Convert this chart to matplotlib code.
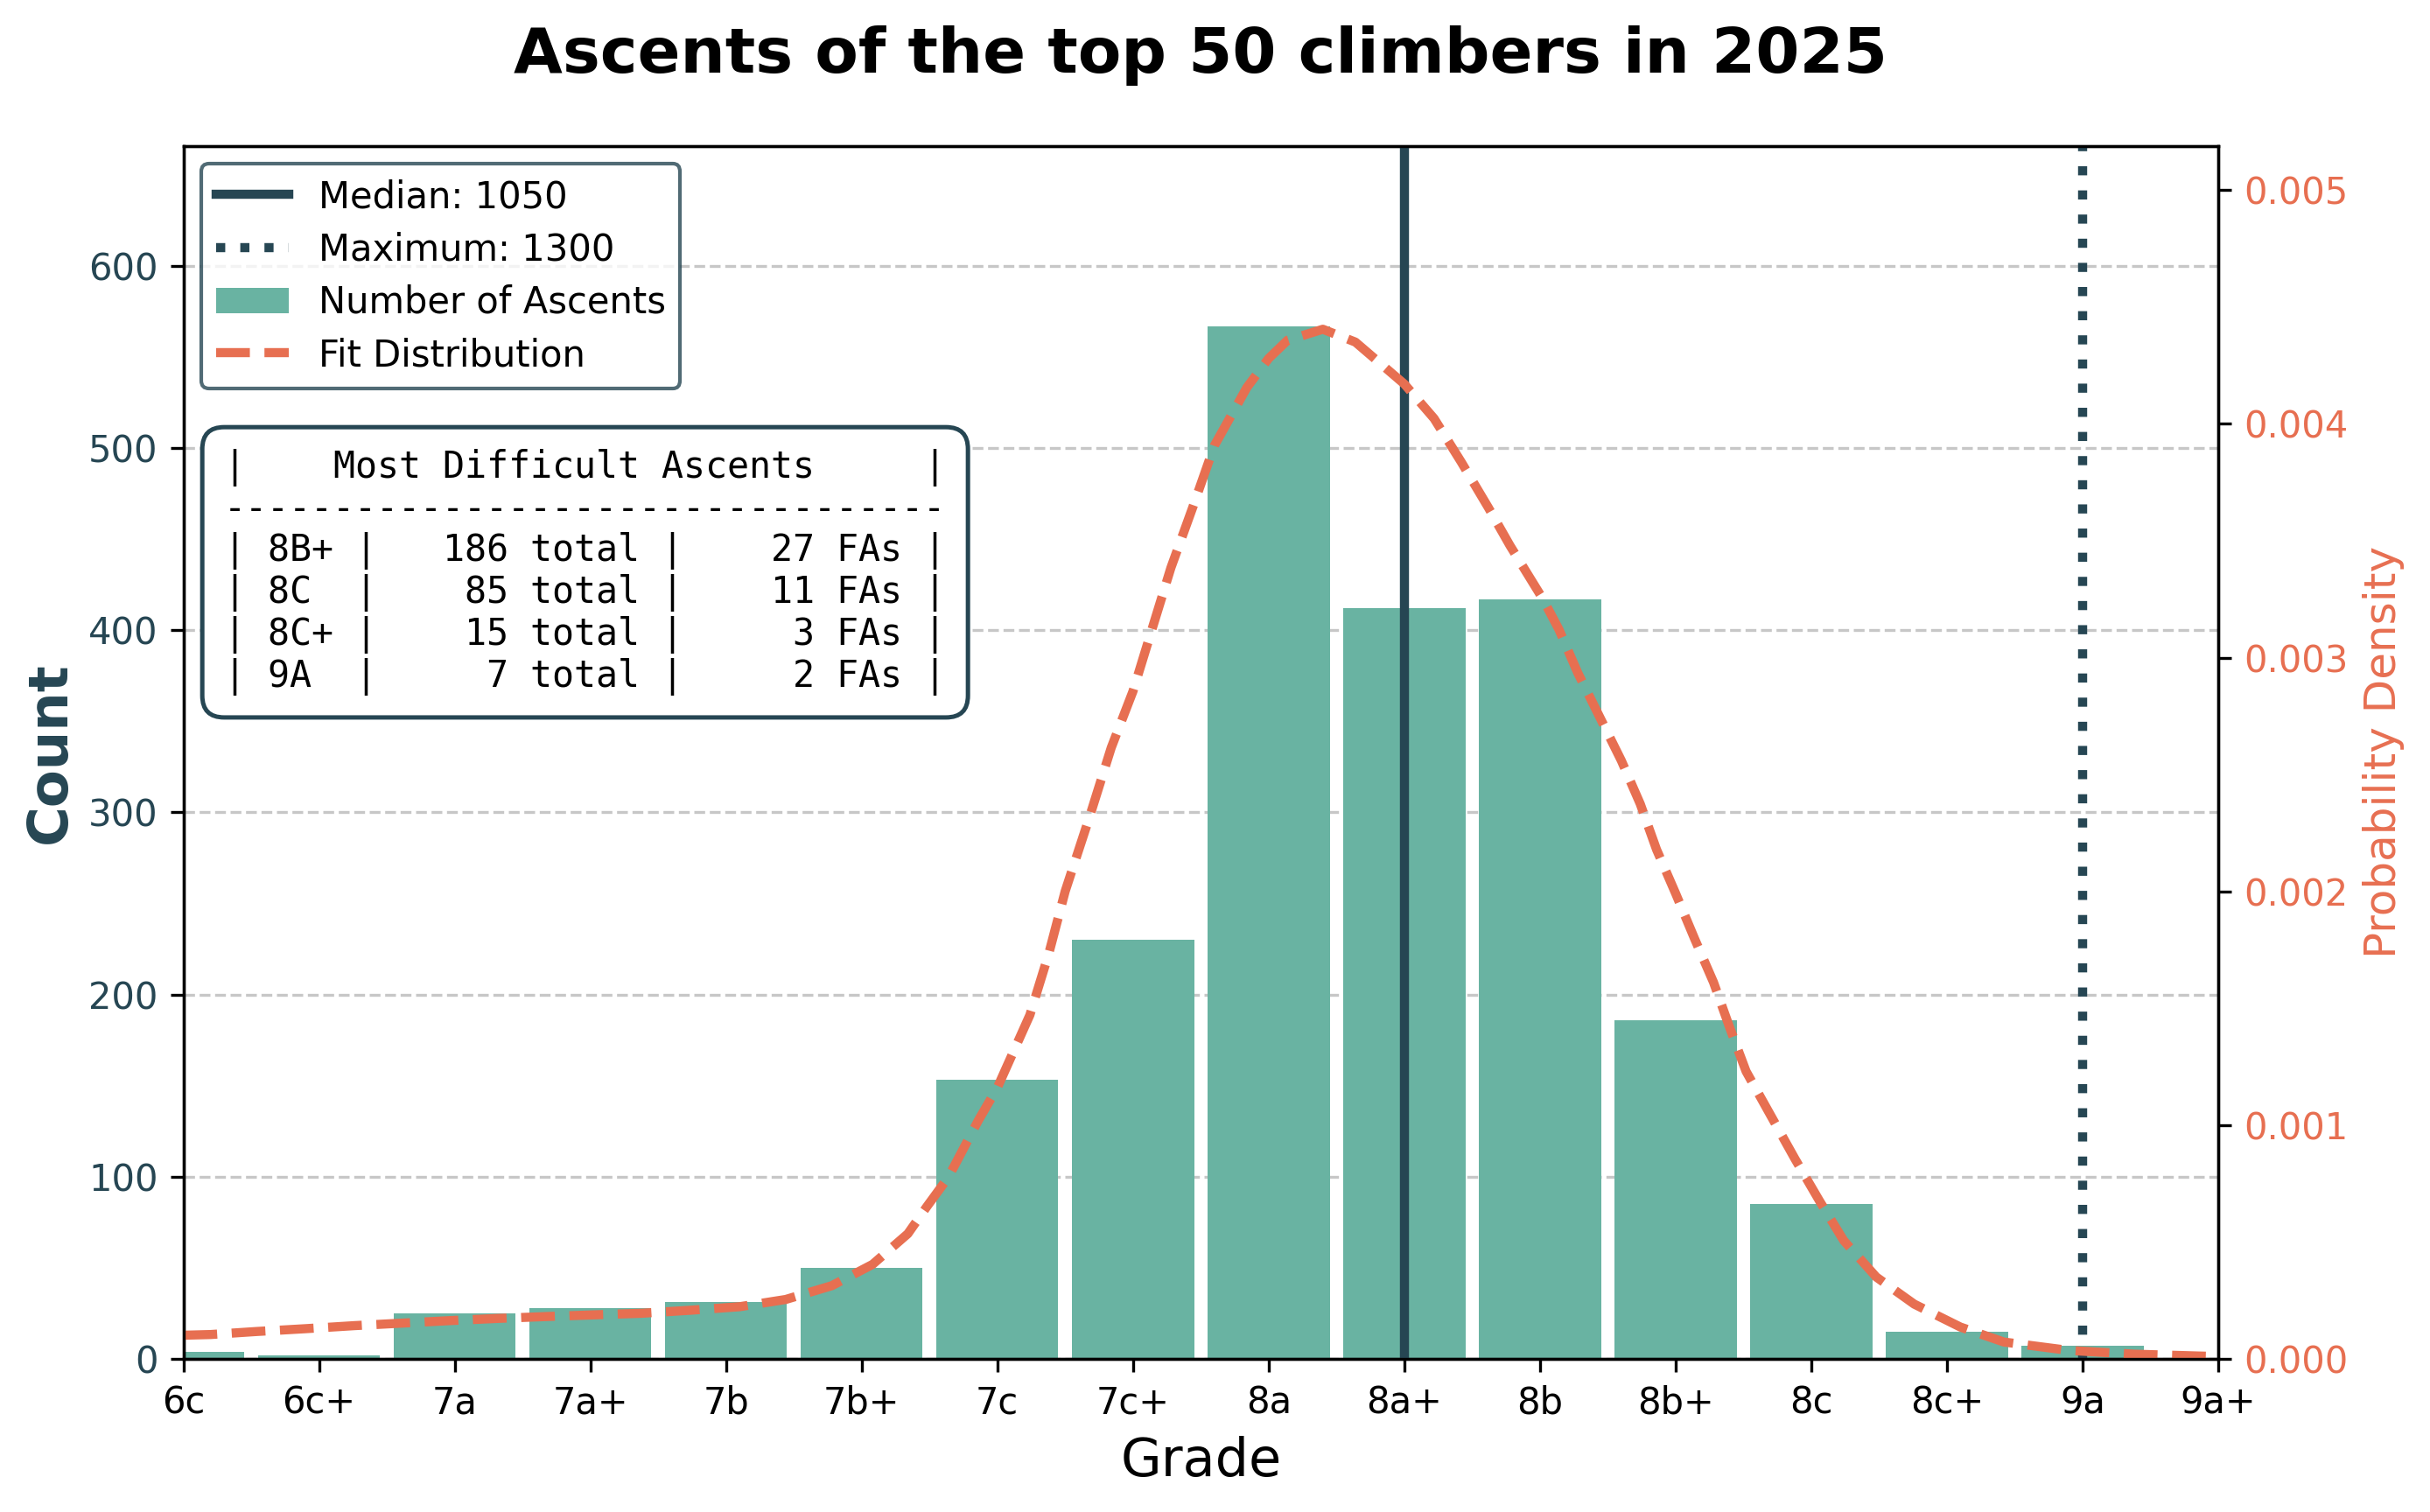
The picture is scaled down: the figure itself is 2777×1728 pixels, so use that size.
import matplotlib
matplotlib.use("Agg")
import matplotlib.pyplot as plt
from matplotlib.lines import Line2D
from matplotlib.patches import Patch

# Grades and their score on the grade scale
grades = ['6c', '6c+', '7a', '7a+', '7b', '7b+', '7c', '7c+',
          '8a', '8a+', '8b', '8b+', '8c', '8c+', '9a', '9a+']
grade_scores = [600, 650, 700, 750, 800, 850, 900, 950,
                1000, 1050, 1100, 1150, 1200, 1250, 1300, 1350]
ascents = [4, 2, 25, 28, 31, 50, 153, 230, 567, 412, 417, 186, 85, 15, 7, 0]

median_score = 1050
max_score = 1300

# Fitted distribution
fit_x = [600, 610, 627, 645, 663, 681, 699, 716, 734, 751, 769, 787, 805, 822,
         839, 854, 867, 874, 882, 893, 900, 912, 919, 925, 934, 942, 950, 957,
         964, 972, 980, 992, 1000, 1007, 1020, 1032, 1050, 1061, 1071, 1081,
         1089, 1101, 1107, 1114, 1122, 1130, 1137, 1143, 1150, 1157, 1164, 1170,
         1176, 1185, 1194, 1203, 1212, 1224, 1238, 1255, 1271, 1295, 1319, 1343, 1350]
fit_density = [0.000101, 0.000104, 0.000117, 0.000129, 0.000142, 0.000153, 0.000164,
               0.000173, 0.000181, 0.000188, 0.000195, 0.000208, 0.000223, 0.000254,
               0.000313, 0.000404, 0.000535, 0.000651, 0.000778, 0.001020, 0.001160,
               0.001471, 0.001735, 0.002000, 0.002319, 0.002615, 0.002856, 0.003121,
               0.003385, 0.003642, 0.003907, 0.004156, 0.004280, 0.004358, 0.004405,
               0.004350, 0.004171, 0.004023, 0.003837, 0.003642, 0.003479, 0.003253,
               0.003121, 0.002934, 0.002747, 0.002560, 0.002374, 0.002179, 0.001992,
               0.001798, 0.001611, 0.001416, 0.001230, 0.001043, 0.000856, 0.000677,
               0.000506, 0.000350, 0.000234, 0.000136, 0.000072, 0.000036, 0.000020,
               0.000012, 0.000010]

# Table of the hardest ascents
hard_grades = ['8B+', '8C', '8C+', '9A']
hard_totals = [186, 85, 15, 7]
hard_fas = [27, 11, 3, 2]

dark = '#264653'
teal = '#69b3a2'
orange = '#e76f51'

fig = plt.figure(figsize=(2777 / 300, 1728 / 300), dpi=300)
ax = fig.add_axes([0.0755, 0.1013, 0.8373, 0.8023])

ax.bar(grade_scores, ascents, width=45, color=teal, zorder=2)
ax.axvline(median_score, color=dark, linewidth=2.5, zorder=3)
ax.axvline(max_score, color=dark, linewidth=2.5, linestyle=':', zorder=3)

ax.set_xlim(600, 1350)
ax.set_ylim(0, 666)
ax.set_xticks(grade_scores)
ax.set_xticklabels(grades)
ax.set_xlabel("Grade", fontsize=14.5)
ax.set_ylabel("Count", fontsize=15, fontweight='bold', color=dark, labelpad=3)
ax.tick_params(axis='y', labelcolor=dark)
ax.grid(True, axis='y', linestyle='--', alpha=0.7)
ax.set_axisbelow(True)

ax2 = ax.twinx()
ax2.plot(fit_x, fit_density, color=orange, linestyle='--', linewidth=2.5)
ax2.set_ylim(0, 0.00519)
ax2.set_ylabel("Probability Density", fontsize=12, color=orange)
ax2.tick_params(axis='y', labelcolor=orange)

ax.set_title("Ascents of the top 50 climbers in 2025", fontsize=17.3,
             fontweight='bold', pad=20)

handles = [
    Line2D([0], [0], color=dark, linewidth=2.5),
    Line2D([0], [0], color=dark, linewidth=2.5, linestyle=':'),
    Patch(facecolor=teal),
    Line2D([0], [0], color=orange, linewidth=2.5, linestyle='--'),
]
labels = [f"Median: {median_score}", f"Maximum: {max_score}",
          "Number of Ascents", "Fit Distribution"]
leg = ax2.legend(handles, labels, loc='upper left', edgecolor=dark,
                 labelspacing=0.44)

lines = ["|    Most Difficult Ascents     |", "-" * 33]
for g, t, f in zip(hard_grades, hard_totals, hard_fas):
    lines.append(f"| {g:<4}| {t:>5} total | {f:>5} FAs |")
ax2.text(0.02, 0.75, "\n".join(lines), transform=ax.transAxes,
         family='DejaVu Sans Mono', fontsize=10, va='top', ha='left',
         linespacing=1.15,
         bbox=dict(boxstyle='round,pad=0.6', facecolor='white', edgecolor=dark,
                   linewidth=1.2))

fig.savefig("out.png", dpi=300)
